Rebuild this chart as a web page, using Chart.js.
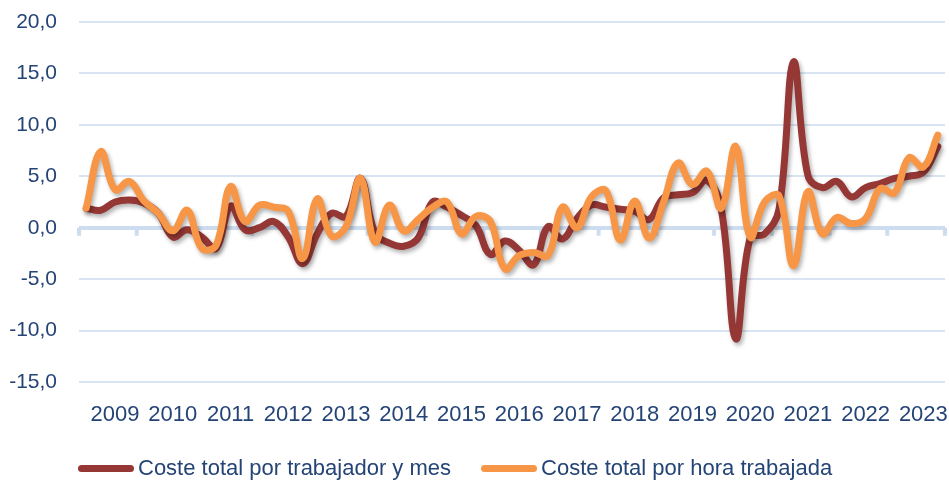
<!DOCTYPE html>
<html>
<head>
<meta charset="utf-8">
<script src="https://cdn.jsdelivr.net/npm/chart.js@4"></script>
<style>
  body { margin: 0; background: #fff; }
  #wrap { position: relative; width: 949px; height: 482px; }
  .legend { position: absolute; left: 78px; top: 455px; display: flex; align-items: center;
            font-family: "Liberation Sans", Arial, sans-serif; font-size: 22px; color: #254476; }
  .legend .item { display: flex; align-items: center; margin-right: 30px; }
  .legend .line { display: inline-block; width: 56px; height: 7px; border-radius: 4px; margin-right: 4px; }
</style>
</head>
<body>
<div id="wrap">
  <canvas id="myChart"></canvas>
  <div class="legend">
    <div class="item"><span class="line" style="background:#953735"></span>Coste total por trabajador y mes</div>
    <div class="item"><span class="line" style="background:#f79646"></span>Coste total por hora trabajada</div>
  </div>
</div>
<script>
const years = [2009, 2010, 2011, 2012, 2013, 2014, 2015, 2016, 2017, 2018, 2019, 2020, 2021, 2022, 2023];
const quarters = ["T1", "T2", "T3", "T4"];
const labels = years.flatMap(y => quarters.map(q => y + q));

// variacion interanual (%)
const costeTrabajadorMes = [
  1.9, 1.7, 2.5, 2.7,   2.4, 1.4, -0.9, -0.2,   -0.9, -2.0, 2.1, -0.2,
  0.0, 0.6, -0.9, -3.5,   -0.6, 1.4, 1.1, 4.8,   -0.5, -1.5, -1.8, -1.0,
  2.5, 2.0, 1.2, 0.2,   -2.6, -1.3, -2.2, -3.6,   0.1, -1.1, 0.9, 2.2,
  2.0, 1.8, 1.6, 0.8,   2.9, 3.2, 3.4, 4.6,   1.8, -10.8, -1.0, -0.6,
  1.8, 16.1, 5.1, 3.9,   4.5, 3.0, 3.9, 4.3,   4.8, 5.0, 5.4, 7.9
];
const costeHoraTrabajada = [
  1.9, 7.4, 3.7, 4.5,   2.6, 1.4, -0.3, 1.7,   -2.0, -1.7, 4.0, 0.6,
  2.2, 2.0, 1.6, -3.0,   2.8, -0.8, 0.1, 4.8,   -1.4, 2.2, -0.3, 0.8,
  2.0, 2.5, -0.6, 1.1,   0.6, -4.0, -2.7, -2.4,   -2.7, 2.0, 0.0, 3.0,
  3.6, -1.2, 2.6, -1.0,   2.5, 6.3, 4.2, 5.5,   1.9, 7.9, -0.9, 2.5,
  3.1, -3.7, 3.5, -0.6,   1.0, 0.4, 0.9, 3.8,   3.4, 6.8, 5.9, 9.0
];

const textColor = "#254476";
const gridColor = "#d9e4f2";
const zeroColor = "#cddcef";
const font = "'Liberation Sans', Arial, sans-serif";

// small ticks on the zero line at each year boundary
const zeroTicks = {
  id: "zeroTicks",
  beforeDatasetsDraw(chart) {
    const { ctx, scales: { x, y } } = chart;
    const y0 = y.getPixelForValue(0);
    const step = x.getPixelForValue(1) - x.getPixelForValue(0);
    ctx.save();
    ctx.strokeStyle = zeroColor;
    ctx.lineWidth = 4;
    for (let i = 0; i <= labels.length; i += 4) {
      const px = x.getPixelForValue(i) - step / 2;
      ctx.beginPath();
      ctx.moveTo(px, y0);
      ctx.lineTo(px, y0 + 8);
      ctx.stroke();
    }
    ctx.restore();
  }
};

const lineShadow = {
  id: "lineShadow",
  beforeDatasetDraw(chart) {
    const ctx = chart.ctx;
    ctx.save();
    ctx.shadowColor = "rgba(0,0,0,0.3)";
    ctx.shadowBlur = 4;
    ctx.shadowOffsetX = 2;
    ctx.shadowOffsetY = 3;
  },
  afterDatasetDraw(chart) {
    chart.ctx.restore();
  }
};

new Chart(document.getElementById("myChart"), {
  type: "line",
  data: {
    labels: labels,
    datasets: [
      {
        label: "Coste total por trabajador y mes",
        data: costeTrabajadorMes,
        borderColor: "#953735",
        backgroundColor: "#953735",
        borderWidth: 7,
        order: 1
      },
      {
        label: "Coste total por hora trabajada",
        data: costeHoraTrabajada,
        borderColor: "#f79646",
        backgroundColor: "#f79646",
        borderWidth: 7,
        order: 0
      }
    ]
  },
  options: {
    responsive: true,
    maintainAspectRatio: false,
    animation: false,
    elements: {
      point: { radius: 0, hoverRadius: 0 },
      line: { tension: 0.4, borderCapStyle: "round", borderJoinStyle: "round", fill: false }
    },
    layout: { padding: { top: 22, right: 4, bottom: 40, left: 0 } },
    plugins: {
      legend: { display: false },
      tooltip: { enabled: false }
    },
    scales: {
      x: {
        offset: true,
        grid: { display: false, drawTicks: false, offset: true },
        border: { display: false },
        ticks: {
          autoSkip: false,
          maxRotation: 0,
          padding: 20,
          color: textColor,
          font: { family: font, size: 22 },
          callback: (val, i) => (i % 4 === 2 ? String(years[Math.floor(i / 4)]) : "")
        },
        afterFit: (scale) => {
          scale.height = 60;
          scale.paddingLeft = 0;
          scale.paddingRight = 0;
        }
      },
      y: {
        min: -15,
        max: 20,
        border: { display: false },
        grid: {
          drawTicks: false,
          color: (c) => (c.tick && c.tick.value === 0 ? zeroColor : gridColor),
          lineWidth: (c) => (c.tick && c.tick.value === 0 ? 4 : 2)
        },
        ticks: {
          stepSize: 5,
          padding: 22,
          color: textColor,
          font: { family: font, size: 21 },
          callback: (v) => v.toFixed(1).replace(".", ",")
        },
        afterFit: (scale) => {
          scale.width = 79;
          scale.paddingTop = 12;
          scale.paddingBottom = 12;
        }
      }
    }
  },
  plugins: [zeroTicks, lineShadow]
});
</script>
</body>
</html>
